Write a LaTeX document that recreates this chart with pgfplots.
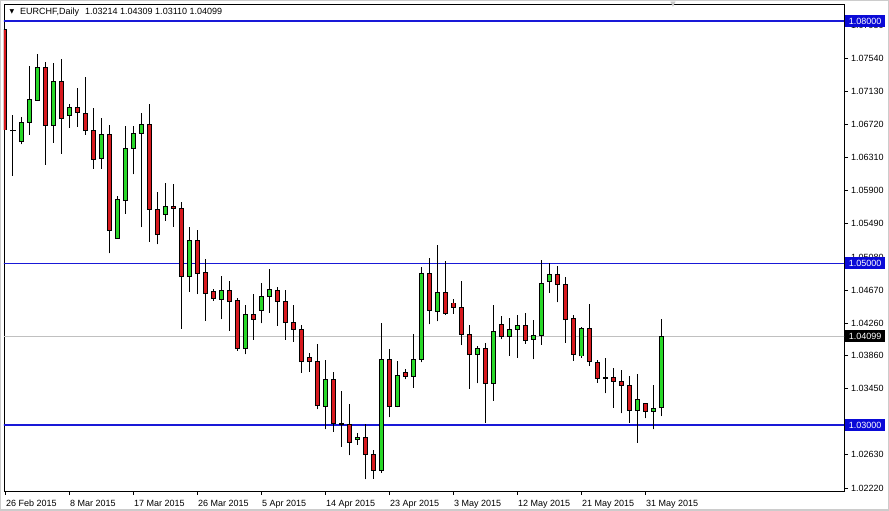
\documentclass[border=0pt]{standalone}
\usepackage{pgfplots}
\pgfplotsset{compat=1.18}
\usepackage{pgfplotstable}
\usepackage{fontspec}
\setmainfont{Liberation Sans}
\newfontfamily\symfont{DejaVu Sans}

\definecolor{bullc}{RGB}{40,215,40}
\definecolor{bearc}{RGB}{215,25,30}
\definecolor{levelc}{RGB}{25,25,215}
\definecolor{levelbox}{RGB}{10,10,215}
\definecolor{bidc}{RGB}{192,192,192}

% EURCHF daily candles, x = bar index (26 Feb 2015 = 0)
\pgfplotstableread{
x  o       h       l       c
2  1.06506 1.06808 1.06474 1.06746
3  1.06746 1.07443 1.06593 1.07031
4  1.07022 1.07592 1.07014 1.07427
6  1.06704 1.07484 1.06494 1.07254
8  1.06828 1.06973 1.06679 1.06932
12 1.06301 1.06799 1.06172 1.06598
14 1.05308 1.05834 1.05302 1.05793
15 1.05776 1.06700 1.05615 1.06424
16 1.06424 1.06700 1.06103 1.06610
17 1.06610 1.06858 1.05450 1.06721
20 1.05608 1.05991 1.05525 1.05702
23 1.04835 1.05447 1.04650 1.05286
27 1.04556 1.04840 1.04308 1.04667
30 1.03944 1.04481 1.03875 1.04370
32 1.04420 1.04757 1.04259 1.04593
33 1.04593 1.04931 1.04390 1.04679
40 1.03229 1.03804 1.02947 1.03566
44 1.02823 1.02905 1.02756 1.02848
47 1.02439 1.04262 1.02410 1.03813
49 1.03231 1.03792 1.03219 1.03615
51 1.03603 1.04122 1.03462 1.03813
52 1.03813 1.04952 1.03776 1.04869
54 1.04407 1.05228 1.04283 1.04642
59 1.03875 1.03978 1.03516 1.03941
61 1.03514 1.04483 1.03301 1.04163
63 1.04098 1.04321 1.03854 1.04184
64 1.04184 1.04361 1.03833 1.04234
66 1.04061 1.04296 1.03813 1.04110
67 1.04110 1.05042 1.03994 1.04754
68 1.04773 1.05001 1.04637 1.04865
72 1.03854 1.04217 1.03833 1.04197
79 1.03177 1.03631 1.02781 1.03318
81 1.03170 1.03495 1.02947 1.03207
82 1.03214 1.04309 1.03110 1.04099
}\bulltab

\pgfplotstableread{
x  o       h       l       c
0  1.07897 1.07901 1.06490 1.06651
1  1.06642 1.06837 1.06085 1.06639
5  1.07427 1.07493 1.06218 1.06704
7  1.07254 1.07526 1.06358 1.06791
9  1.06932 1.07171 1.06692 1.06870
10 1.06858 1.07303 1.06593 1.06642
11 1.06647 1.06923 1.06172 1.06288
13 1.06598 1.06709 1.05125 1.05405
18 1.06721 1.06973 1.05268 1.05670
19 1.05670 1.05880 1.05234 1.05360
21 1.05710 1.05983 1.05454 1.05682
22 1.05682 1.05764 1.04194 1.04835
24 1.05286 1.05413 1.04621 1.04873
25 1.04890 1.05051 1.04291 1.04625
26 1.04655 1.04679 1.04538 1.04563
28 1.04667 1.04782 1.04167 1.04526
29 1.04543 1.04568 1.03920 1.03941
31 1.04370 1.04618 1.04052 1.04308
34 1.04667 1.04708 1.04229 1.04531
35 1.04531 1.04671 1.04056 1.04266
36 1.04271 1.04481 1.04031 1.04184
37 1.04184 1.04234 1.03647 1.03783
38 1.03838 1.03887 1.03656 1.03783
39 1.03788 1.03999 1.03194 1.03239
41 1.03566 1.03652 1.02917 1.03021
42 1.03019 1.03421 1.02731 1.03009
43 1.03009 1.03260 1.02625 1.02786
45 1.02848 1.03009 1.02328 1.02637
46 1.02637 1.02687 1.02335 1.02439
48 1.03813 1.03941 1.03095 1.03231
50 1.03652 1.03689 1.03566 1.03603
53 1.04877 1.05067 1.04246 1.04415
55 1.04642 1.05026 1.04365 1.04377
56 1.04510 1.04556 1.04374 1.04457
57 1.04457 1.04778 1.03990 1.04122
58 1.04118 1.04234 1.03449 1.03870
60 1.03949 1.04011 1.03028 1.03511
62 1.04241 1.04349 1.04061 1.04098
65 1.04234 1.04386 1.04006 1.04048
69 1.04865 1.04968 1.04519 1.04741
70 1.04741 1.04828 1.04019 1.04303
71 1.04321 1.04361 1.03796 1.03875
73 1.04197 1.04498 1.03734 1.03788
74 1.03776 1.03804 1.03524 1.03578
75 1.03582 1.03826 1.03392 1.03578
76 1.03582 1.03709 1.03214 1.03541
77 1.03541 1.03681 1.03145 1.03491
78 1.03491 1.03606 1.03028 1.03177
80 1.03269 1.03275 1.03083 1.03170
}\beartab

% horizontal levels (support/resistance)
\pgfplotstableread{
xa  xb   y
-1  106  1.08
-1  106  1.05
-1  106  1.03
}\levels

% one vertical stroke per candle, from y upwards by the error value
\pgfplotsset{
  candlebar/.style 2 args={only marks, mark=none, mark size=0pt, forget plot,
    error bars/.cd, y dir=plus, y explicit, error mark=none,
    error bar style={#1, line width=#2, line cap=butt}},
}

\newcommand\candles[2]{%
  % wick
  \addplot[candlebar={black}{1pt}] table[x=x, y=l,
    y error plus expr={\thisrow{h}-\thisrow{l}}] #1;
  % body outline
  \addplot[candlebar={black}{5pt}] table[x=x,
    y expr={min(\thisrow{o},\thisrow{c})-0.00006},
    y error plus expr={abs(\thisrow{c}-\thisrow{o})+0.00012}] #1;
  % body fill
  \addplot[candlebar={#2}{3pt}] table[x=x,
    y expr={min(\thisrow{o},\thisrow{c})+0.00006},
    y error plus expr={max(abs(\thisrow{c}-\thisrow{o})-0.00012,0)}] #1;
}

\begin{document}
\begin{tikzpicture}
\fill[white] (-4pt,-20pt) rectangle (885pt,491pt);
\begin{axis}[
  at={(0,0)}, anchor=south west,
  scale only axis, width=840pt, height=487pt,
  xmin=-0.125, xmax=104.875,
  ymin=1.021832, ymax=1.082104,
  axis line style={black, line width=0.8pt},
  tick align=outside, major tick length=4pt,
  tick style={black, line width=0.8pt},
  xtick pos=bottom, ytick pos=right, yticklabel pos=right,
  xtick={0,8,...,80},
  xticklabels={26 Feb 2015, 8 Mar 2015, 17 Mar 2015, 26 Mar 2015, 5 Apr 2015,
    14 Apr 2015, 23 Apr 2015, 3 May 2015, 12 May 2015, 21 May 2015, 31 May 2015},
  ytick={1.0222,1.0263,1.0345,1.0386,1.0426,1.0467,1.0508,1.0549,1.0590,
    1.0631,1.0672,1.0713,1.0754,1.0795},
  /pgf/number format/assume math mode=true,
  yticklabel={\pgfmathprintnumber[fixed, fixed zerofill, precision=5]{\tick}},
  ticklabel style={font=\fontsize{9}{10}\selectfont},
  xticklabel style={anchor=north west, inner sep=0pt, xshift=1pt, yshift=-5pt},
  yticklabel style={anchor=west, inner sep=0pt, xshift=3pt},
  scaled y ticks=false,
]
  \addplot[bidc, line width=1pt, forget plot] coordinates {(-1,1.04099) (106,1.04099)};
  % each level as a horizontal error bar from xa to xb
  \addplot[only marks, mark=none, forget plot,
    error bars/.cd, x dir=plus, x explicit, error mark=none,
    error bar style={draw=levelc, line width=1.2pt}]
    table[x=xa, y=y, x error plus expr={\thisrow{xb}-\thisrow{xa}}] \levels;

  \candles{\bulltab}{bullc}
  \candles{\beartab}{bearc}

  \coordinate (p108) at (axis cs:104.875,1.08);
  \coordinate (p105) at (axis cs:104.875,1.05);
  \coordinate (p103) at (axis cs:104.875,1.03);
  \coordinate (pbid) at (axis cs:104.875,1.04099);
\end{axis}

% price labels on the right scale
\tikzset{pricebox/.style={anchor=west, text=white, inner xsep=0pt, inner ysep=0pt,
  minimum width=40pt, minimum height=12pt, font=\fontsize{9}{10}\selectfont, xshift=1pt}}
\node[pricebox, fill=levelbox] at (p108) {1.08000};
\node[pricebox, fill=levelbox] at (p105) {1.05000};
\node[pricebox, fill=levelbox] at (p103) {1.03000};
\node[pricebox, fill=black] at (pbid) {1.04099};

% chart header
\node[inner sep=0pt] at (8pt,479pt) {\symfont\fontsize{6}{6}\selectfont ▼};
\node[anchor=west, inner sep=0pt, font=\fontsize{9}{10}\selectfont] at (16pt,479pt)
  {EURCHF,Daily\hspace{6pt}1.03214 1.04309 1.03110 1.04099};
\node[inner sep=0pt, text=gray!45] at (669pt,486pt) {\symfont\fontsize{7}{7}\selectfont ▼};

% window border
\draw[gray!40, line width=1.5pt] (-3.25pt,-19.25pt) rectangle (884.25pt,490.25pt);
\pgfresetboundingbox
\path[use as bounding box] (-4pt,-20pt) rectangle (885pt,491pt);
\end{tikzpicture}
\end{document}
